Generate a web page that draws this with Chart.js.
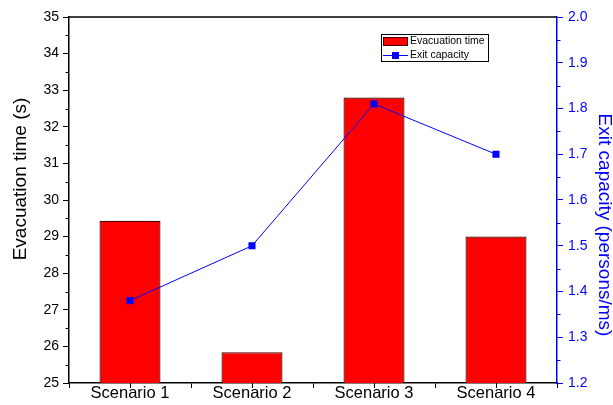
<!DOCTYPE html>
<html>
<head>
<meta charset="utf-8">
<script src="https://cdn.jsdelivr.net/npm/chart.js@4/dist/chart.umd.min.js"></script>
<style>
  html, body { margin: 0; padding: 0; background: #fff; }
  #wrap { width: 613px; height: 405px; }
</style>
</head>
<body>
<div id="wrap"><canvas id="c" width="613" height="405"></canvas></div>
<script>
// Categories and series
const scenarios = ['Scenario 1', 'Scenario 2', 'Scenario 3', 'Scenario 4'];
const evacuationTime = [29.43, 25.84, 32.80, 29.00];   // s
const exitCapacity = [1.38, 1.50, 1.81, 1.70];         // persons/ms

// Axis ranges, tick steps and titles
const timeRange = [25, 35];
const timeStep = 1;
const capacityRange = [1.2, 2.0];
const capacityStep = 0.1;
const timeTitle = 'Evacuation time (s)';
const capacityTitle = 'Exit capacity (persons/ms)';

const FONT = "'Liberation Sans', Arial, sans-serif";
const BLUE = '#0000FF';

// Minor ticks, centre ticks on the category axis, the top frame line,
// the two axis titles and the boxed legend
const decorations = {
  id: 'decorations',
  afterDraw(chart) {
    const ctx = chart.ctx;
    const area = chart.chartArea;
    const y = chart.scales.y, y1 = chart.scales.y1, x = chart.scales.x;
    ctx.save();

    // top frame
    ctx.strokeStyle = '#000';
    ctx.lineWidth = 1.5;
    ctx.beginPath();
    ctx.moveTo(area.left, area.top);
    ctx.lineTo(area.right, area.top);
    ctx.stroke();

    // left minor ticks
    ctx.lineWidth = 1;
    ctx.beginPath();
    for (let v = timeRange[0] + timeStep / 2; v < timeRange[1]; v += timeStep) {
      const py = Math.round(y.getPixelForValue(v)) + 0.5;
      ctx.moveTo(area.left - 3.5, py);
      ctx.lineTo(area.left, py);
    }
    // centre ticks on the category axis
    x.ticks.forEach((t, i) => {
      const px = Math.round(x.getPixelForValue(i)) + 0.5;
      ctx.moveTo(px, area.bottom);
      ctx.lineTo(px, area.bottom + 5);
    });
    ctx.stroke();

    // right minor ticks
    ctx.strokeStyle = BLUE;
    ctx.beginPath();
    for (let k = 0; k < Math.round((capacityRange[1] - capacityRange[0]) / capacityStep); k++) {
      const v = capacityRange[0] + (k + 0.5) * capacityStep;
      const py = Math.round(y1.getPixelForValue(v)) + 0.5;
      ctx.moveTo(area.right, py);
      ctx.lineTo(area.right + 3.5, py);
    }
    ctx.stroke();

    // axis titles
    ctx.font = '19px ' + FONT;
    ctx.textAlign = 'center';
    ctx.textBaseline = 'middle';
    ctx.save();
    ctx.translate(21, area.top + 162);
    ctx.rotate(-Math.PI / 2);
    ctx.fillStyle = '#000';
    ctx.fillText(timeTitle, 0, 0);
    ctx.restore();
    ctx.save();
    ctx.translate(area.right + 47, area.top + 208);
    ctx.rotate(Math.PI / 2);
    ctx.fillStyle = BLUE;
    ctx.fillText(capacityTitle, 0, 0);
    ctx.restore();

    // legend box
    const bar = chart.data.datasets[0], line = chart.data.datasets[1];
    const lx = area.left + 312, ly = area.top + 17, lw = 107, lh = 27;
    ctx.fillStyle = '#fff';
    ctx.fillRect(lx, ly, lw, lh);
    ctx.strokeStyle = '#000';
    ctx.lineWidth = 1;
    ctx.strokeRect(lx + 0.5, ly + 0.5, lw, lh);

    // bar entry
    ctx.fillStyle = bar.backgroundColor;
    ctx.fillRect(lx + 2.5, ly + 3.5, 24, 8);
    ctx.strokeStyle = bar.borderColor;
    ctx.strokeRect(lx + 2.5, ly + 3.5, 24, 8);
    // line entry
    ctx.strokeStyle = line.borderColor;
    ctx.beginPath();
    ctx.moveTo(lx + 2, ly + 21.5);
    ctx.lineTo(lx + 27, ly + 21.5);
    ctx.stroke();
    ctx.fillStyle = line.pointBackgroundColor;
    ctx.fillRect(lx + 11, ly + 18, 7, 7);

    ctx.fillStyle = '#000';
    ctx.font = '10.5px ' + FONT;
    ctx.textBaseline = 'middle';
    ctx.textAlign = 'left';
    ctx.fillText(bar.label, lx + 29, ly + 7.5);
    ctx.fillText(line.label, lx + 29, ly + 21);
    ctx.restore();
  }
};

new Chart(document.getElementById('c'), {
  data: {
    labels: scenarios,
    datasets: [
      {
        type: 'bar',
        label: 'Evacuation time',
        data: evacuationTime,
        yAxisID: 'y',
        backgroundColor: '#FF0000',
        borderColor: '#4A0000',
        borderWidth: 1.2,
        barPercentage: 0.5,
        categoryPercentage: 1,
        order: 2
      },
      {
        type: 'line',
        label: 'Exit capacity',
        data: exitCapacity,
        yAxisID: 'y1',
        borderColor: BLUE,
        borderWidth: 1,
        pointStyle: 'rect',
        pointRadius: 5,
        pointBackgroundColor: BLUE,
        pointBorderWidth: 0,
        tension: 0,
        order: 1
      }
    ]
  },
  options: {
    responsive: false,
    animation: false,
    layout: { padding: { top: 17, left: 0, right: 0, bottom: 0 } },
    plugins: { legend: { display: false }, tooltip: { enabled: false } },
    scales: {
      x: {
        type: 'category',
        offset: true,
        grid: { offset: true, drawOnChartArea: false, tickLength: 5, color: '#000', tickWidth: 1 },
        border: { color: '#000', width: 1.5 },
        ticks: { color: '#000', font: { family: FONT, size: 16.5 }, padding: -4, maxRotation: 0 },
        afterFit(s) { s.height = 22; }
      },
      y: {
        type: 'linear',
        position: 'left',
        min: timeRange[0],
        max: timeRange[1],
        ticks: { stepSize: timeStep, color: '#000', font: { family: FONT, size: 14 }, padding: 4 },
        grid: { drawOnChartArea: false, tickLength: 6, color: '#000', tickWidth: 1 },
        border: { color: '#000', width: 1.5 },
        afterFit(s) { s.width = 69; }
      },
      y1: {
        type: 'linear',
        position: 'right',
        min: capacityRange[0],
        max: capacityRange[1],
        ticks: { stepSize: capacityStep, color: BLUE, font: { family: FONT, size: 14 }, padding: 5,
                 callback: v => Number(v).toFixed(1) },
        grid: { drawOnChartArea: false, tickLength: 6, color: BLUE, tickWidth: 1 },
        border: { color: BLUE, width: 1.5 },
        afterFit(s) { s.width = 56; }
      }
    }
  },
  plugins: [decorations]
});
</script>
</body>
</html>
